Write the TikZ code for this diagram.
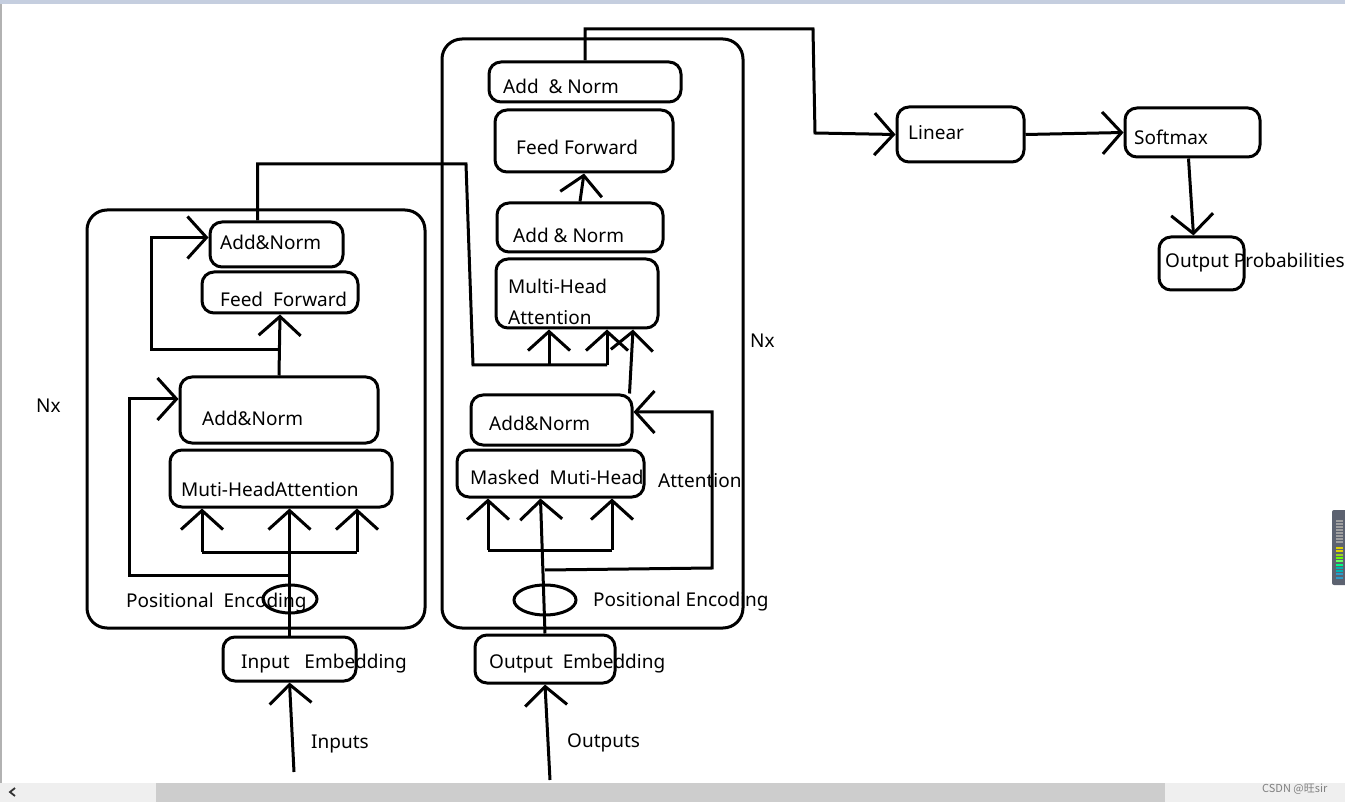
\documentclass[tikz,border=0pt]{standalone}
\usepackage{fontspec}
\setmainfont{Noto Sans}
\newfontfamily\cjkfont{Noto Sans CJK SC}
\usepackage{tikz}
\usetikzlibrary{fit,shapes.geometric,arrows.meta}
\definecolor{topbar}{RGB}{197,206,223}
\definecolor{sbar}{RGB}{239,239,239}
\definecolor{sthumb}{RGB}{205,205,205}
\definecolor{gadget}{RGB}{92,98,112}

\begin{document}
\begin{tikzpicture}[x=1pt, y=-1pt,
  wire/.style = {draw, line width=3pt},
  arr/.style = {wire, -{Straight Barb[length=19pt,width=42pt]}},
  blk/.style = {draw, line width=3pt, rounded corners=12pt, inner sep=0pt},
  frame/.style = {blk, rounded corners=20pt},
  pe/.style = {draw, line width=3pt, ellipse, inner sep=0pt},
  lbl/.style = {anchor=base west, inner sep=0pt, font=\fontsize{19}{22}\selectfont}
  ]
  \useasboundingbox (0,0) rectangle (1345,802);

  % window
  \fill[topbar] (0,0) rectangle (1345,4);
  \fill[gray!60] (0,4) rectangle (2,783);
  \fill[sbar] (0,783) rectangle (1345,802);
  \fill[sthumb] (156,783) rectangle (1165,802);
  \draw[gray!40!black, line width=1.8pt] (15,788) -- (10,792) -- (15,796);
  \node[anchor=base west, inner sep=0pt, text=gray, font=\cjkfont\fontsize{11}{12}\selectfont] (wm) at (1262,792) {CSDN @旺sir};
  \fill[gadget, rounded corners=2pt] (1332,510) rectangle (1347,585);
  \foreach \i in {0,...,7}
    \fill[gray!75] (1336,520+3*\i) rectangle (1343,521.5+3*\i);
  \foreach \i/\c in {0/yellow!70!olive,1/yellow!70!olive,2/yellow!60!green,3/green!60!yellow,4/green!60,5/green!50!cyan,6/teal!60!cyan,7/teal!60!cyan,8/cyan!60!teal,9/cyan!60!teal}
    \fill[\c] (1336,547+3.3*\i) rectangle (1343,549+3.3*\i);

  % encoder
  \node[frame, fit={(87,210) (425,628)}] (encframe) {};
  \node[blk, fit={(210,222) (343,267)}] (encan2) {};
  \node[blk, fit={(202,272) (358,313)}] (encff) {};
  \node[blk, fit={(180,377) (378,443)}] (encan1) {};
  \node[blk, fit={(170,450) (392,507)}] (encmha) {};
  \node[pe, minimum width=54pt, minimum height=28pt] (encpe) at (290,599) {};
  \node[blk, fit={(223,637) (356,681)}] (inemb) {};

  \node[lbl] (encan2t) at (220,250) {Add\&Norm};
  \node[lbl] (encfft) at (220,307) {Feed~ Forward};
  \node[lbl] (encan1t) at (202,426) {Add\&Norm};
  \node[lbl] (encmhat) at (181,496) {Muti-HeadAttention};
  \node[lbl] (encpet) at (126,607) {Positional~ Encoding};
  \node[lbl] (inembt) at (241,668) {Input~~ Embedding};
  \node[lbl] (inputst) at (311,748) {Inputs};
  \node[lbl] (nxenc) at (36,413) {Nx};

  \coordinate (inp) at (294,772);
  \coordinate (encq) at (202,552);
  \coordinate (enck) at (357,552);
  \coordinate (encsplit) at (289,575);
  \coordinate (encrl) at (129,575);
  \coordinate (encsplit2) at (280,350);
  \coordinate (encrl2) at (151,350);

  \draw[arr] (inp) -- (inemb.south);
  \draw[arr] (inemb.north) -- (inemb.north |- encmha.south);
  \draw[wire] (encq) -- (enck);
  \draw[arr] (encq) -- (encq |- encmha.south);
  \draw[arr] (enck) -- (enck |- encmha.south);
  \draw[arr] (encsplit) -- (encrl) |- ([yshift=11pt]encan1.west);
  \draw[arr] (encan1.north) -- (encff.south);
  \draw[arr] (encsplit2) -- (encrl2) |- ([yshift=7pt]encan2.west);

  % decoder
  \node[frame, fit={(442,39) (743,628)}] (decframe) {};
  \node[blk, fit={(489,62) (681,102)}] (decan2) {};
  \node[blk, fit={(495,110) (673,172)}] (decff) {};
  \node[blk, fit={(497,203) (663,252)}] (decan1) {};
  \node[blk, fit={(496,259) (658,328)}] (decmha) {};
  \node[blk, fit={(471,395) (632,445)}] (decan0) {};
  \node[blk, fit={(457,450) (644,497)}] (decmmha) {};
  \node[pe, minimum width=62pt, minimum height=30pt] (decpe) at (545,600) {};
  \node[blk, fit={(475,635) (615,683)}] (outemb) {};

  \node[lbl] (decan2t) at (503,94) {Add~ \& Norm};
  \node[lbl] (decfft) at (516,155) {Feed Forward};
  \node[lbl] (decan1t) at (513,243) {Add \& Norm};
  \node[lbl] (decmhat) at (508,294) {Multi-Head};
  \node[lbl] (decmhat2) at (508,325) {Attention};
  \node[lbl] (decan0t) at (489,431) {Add\&Norm};
  \node[lbl] (decmmhat) at (470,484) {Masked~ Muti-Head};
  \node[lbl] (decattt) at (658,487) {Attention};
  \node[lbl] (decpet) at (593,606) {Positional Encoding};
  \node[lbl] (outembt) at (489,668) {Output~ Embedding};
  \node[lbl] (outputst) at (567,747) {Outputs};
  \node[lbl] (nxdec) at (750,348) {Nx};

  \coordinate (outp) at (550,780);
  \coordinate (decq) at (488,550);
  \coordinate (deck) at (612,550);
  \coordinate (decsplit) at (545,570);
  \coordinate (decrr) at (712,568);
  \coordinate (mema) at (466,164);
  \coordinate (memb) at (473,365);
  \coordinate (memv) at (549,365);
  \coordinate (memk) at (607,365);

  \draw[arr] (outp) -- (outemb.south);
  \draw[arr] (outemb.north) -- ([xshift=-10pt]decmmha.south);
  \draw[wire] (decq) -- (deck);
  \draw[arr] (decq) -- (decq |- decmmha.south);
  \draw[arr] (deck) -- (deck |- decmmha.south);
  \draw[arr] (decsplit) -- (decrr) |- ([yshift=8pt]decan0.east);
  \draw[arr] ([xshift=-4pt]decan0.north east) -- ([xshift=56pt]decmha.south);
  \draw[arr] (decan1.north) -- (decff.south);

  % encoder to decoder
  \draw[wire] ([xshift=-19pt]encan2.north) |- (mema) -- (memb) -- (memk);
  \draw[arr] (memv) -- (memv |- decmha.south);
  \draw[arr] (memk) -- (memk |- decmha.south);

  % output side
  \node[blk, fit={(897,107) (1024,162)}] (linear) {};
  \node[blk, fit={(1125,108) (1260,157)}] (softmax) {};
  \node[blk, fit={(1159,237) (1244,290)}] (outprob) {};
  \node[lbl] (lineart) at (908,140) {Linear};
  \node[lbl] (softmaxt) at (1134,145) {Softmax};
  \node[lbl] (outprobt) at (1165,268) {Output Probabilities};

  \coordinate (toprt) at (813,29);
  \coordinate (tolin) at (815,133);
  \draw[arr] (decan2.north) |- (toprt) -- (tolin) -- (linear.west);
  \draw[arr] (linear.east) -- (softmax.west);
  \draw[arr] ([xshift=-4pt]softmax.south) -- ([xshift=-8pt]outprob.north);
\end{tikzpicture}
\end{document}
